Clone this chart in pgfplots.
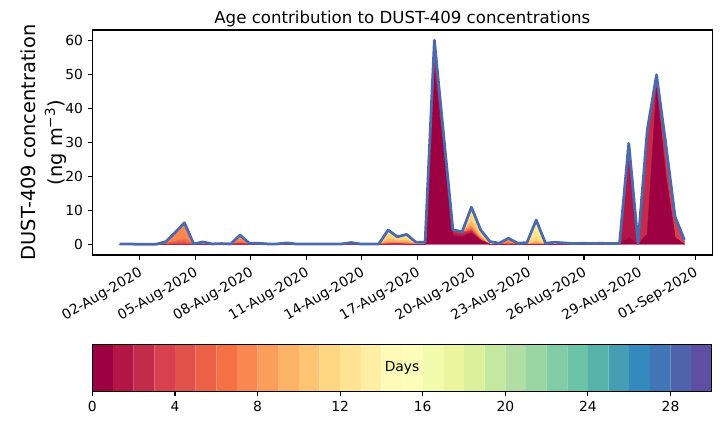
\documentclass[border=0pt]{standalone}
\usepackage{fontspec}
\setmainfont{DejaVu Sans}
\usepackage{pgfplots}
\usepackage{pgfplotstable}
\pgfplotsset{compat=1.18}

% Spectral, 30 levels (day 0 ... day 29)
\definecolor{cb0}{RGB}{158,1,66}
\definecolor{cb1}{RGB}{177,22,71}
\definecolor{cb2}{RGB}{196,43,75}
\definecolor{cb3}{RGB}{214,64,79}
\definecolor{cb4}{RGB}{225,80,74}
\definecolor{cb5}{RGB}{235,96,70}
\definecolor{cb6}{RGB}{245,113,69}
\definecolor{cb7}{RGB}{248,136,79}
\definecolor{cb8}{RGB}{251,158,90}
\definecolor{cb9}{RGB}{253,179,101}
\definecolor{cb10}{RGB}{253,196,116}
\definecolor{cb11}{RGB}{254,214,130}
\definecolor{cb12}{RGB}{254,228,146}
\definecolor{cb13}{RGB}{254,239,164}
\definecolor{cb14}{RGB}{255,250,182}
\definecolor{cb15}{RGB}{251,253,184}
\definecolor{cb16}{RGB}{242,250,171}
\definecolor{cb17}{RGB}{233,246,157}
\definecolor{cb18}{RGB}{218,240,154}
\definecolor{cb19}{RGB}{197,232,159}
\definecolor{cb20}{RGB}{177,223,163}
\definecolor{cb21}{RGB}{154,214,164}
\definecolor{cb22}{RGB}{131,205,165}
\definecolor{cb23}{RGB}{107,196,165}
\definecolor{cb24}{RGB}{88,178,172}
\definecolor{cb25}{RGB}{70,158,180}
\definecolor{cb26}{RGB}{52,138,188}
\definecolor{cb27}{RGB}{64,118,181}
\definecolor{cb28}{RGB}{79,99,171}
\definecolor{cb29}{RGB}{94,79,162}
\definecolor{outline}{RGB}{76,105,174}

% t = days after 02-Aug-2020, one row every 12 h, contribution by age (days); tot = sum
\pgfplotstableread{
t     a0   a1  a2   a3  a5  a6  a7  a9  a11 a12 a13 a14 a17  a20  a24 tot
-1.08 0    0   0    0   0   0   0   0   0   0   0   0   0    0.05 0   0.05
-0.58 0    0   0    0   0   0   0   0   0   0   0   0   0    0    0.1 0.1
-0.08 0    0   0    0   0   0   0   0   0   0   0   0   0    0    0   0
0.42  0    0   0    0   0   0   0   0   0   0   0   0   0    0    0   0
0.92  0    0   0    0   0   0   0.05 0  0   0   0   0   0    0    0   0.05
1.42  0    0   0    0   0.3 0   0.5 0   0   0   0   0   0    0    0   0.8
1.92  0    0   0    0.3 0.6 0   2.6 0   0   0   0   0   0    0    0   3.5
2.42  0    0   0    0.4 0.8 0.6 4.5 0   0   0   0   0   0    0    0   6.3
2.92  0    0   0    0   0   0   0   0   0   0   0   0.1 0    0    0   0.1
3.42  0    0   0    0   0   0   0.3 0   0   0.4 0   0   0    0    0   0.7
3.92  0    0   0    0.1 0   0   0   0   0   0   0   0   0    0    0   0.1
4.42  0    0   0    0.15 0.05 0 0   0   0   0   0   0   0    0    0   0.2
4.92  0    0   0    0   0   0   0   0   0   0   0   0   0.1  0    0   0.1
5.42  0    0   0.3  0   0.4 0   1.2 0   0.8 0   0   0   0    0    0   2.7
5.92  0    0   0    0   0   0   0   0   0   0   0   0   0.15 0.15 0   0.3
6.42  0    0   0    0   0   0   0   0   0   0   0   0   0    0.3  0   0.3
6.92  0    0   0    0   0   0   0   0   0   0   0   0   0    0    0.1 0.1
7.42  0    0   0    0   0   0   0   0   0   0   0   0   0    0.1  0   0.1
7.92  0    0   0    0   0   0   0   0   0   0   0   0   0    0.2  0.2 0.4
8.42  0    0   0    0   0   0   0   0   0   0   0   0   0    0.1  0   0.1
8.92  0    0   0    0   0   0   0   0   0   0   0   0   0    0.05 0   0.05
9.42  0    0   0    0   0   0   0   0   0   0   0   0   0    0.05 0   0.05
9.92  0    0   0    0   0   0   0   0   0   0   0   0   0    0.05 0   0.05
10.42 0    0   0    0   0   0   0   0   0   0   0   0   0    0.05 0   0.05
10.92 0    0   0    0   0   0   0   0   0   0   0   0   0    0.1  0   0.1
11.42 0    0   0    0   0   0   0.2 0   0   0   0   0.3 0    0    0   0.5
11.92 0    0   0    0   0   0   0   0   0   0   0   0   0    0.1  0   0.1
12.42 0    0   0    0   0   0   0   0   0   0   0   0   0    0.05 0   0.05
12.92 0    0   0    0   0   0   0   0   0   0.1 0   0   0    0    0   0.1
13.42 0    0   0    0.2 0   0   0.5 1.0 1.2 1.0 0.3 0   0    0    0   4.2
13.92 0    0   0.3  0   0   0   0.3 0.5 0.6 0.5 0   0   0    0    0   2.2
14.42 0    0   0    0   0.3 0   0.3 0.6 0.8 0.6 0   0.3 0    0    0   2.9
14.92 0    0   0    0   0   0   0   0   0.2 0.2 0.2 0   0    0    0   0.6
15.42 0    0   0    0   0   0   0   0.2 0   0.2 0.2 0   0    0    0   0.6
15.92 51   3   2    1.5 1   0   0.8 0   0   0.7 0   0   0    0    0   60
16.42 27.5 1.6 1.1  0.8 0.5 0   0.3 0   0   0.2 0   0   0    0    0   32
16.92 2.5  0.7 0.5  0.5 0   0   0   0   0   0   0   0   0    0    0   4.2
17.42 2.2  0.5 0.5  0.3 0   0   0.2 0   0   0   0   0   0    0    0   3.7
17.92 3.3  0   0.7  0   0.6 0   0.8 1.3 1.8 1.2 0.7 0   0.3  0.2  0   10.9
18.42 1.2  0   0    0   0.3 0   0.4 0.6 0.7 0.5 0.3 0   0.2  0    0   4.2
18.92 0    0   0    0   0   0   0   0   0.3 0.3 0   0   0.2  0    0   0.8
19.42 0    0   0    0   0   0   0.1 0   0   0.2 0   0   0    0    0   0.3
19.92 0    0   0    0   0.4 0   0.8 0.4 0   0.2 0   0   0    0    0   1.8
20.42 0    0   0    0   0   0   0   0   0   0.3 0   0   0    0    0   0.3
20.92 0    0   0    0   0   0   0   0   0.2 0.3 0   0   0    0    0   0.5
21.42 0    0   0    0   0   0   0.4 0.6 1.3 1.8 1.6 1.0 0.4  0    0   7.1
21.92 0    0   0    0   0   0   0   0   0   0   0.3 0   0    0    0   0.3
22.42 0    0   0    0   0   0   0   0   0   0   0   0.3 0.3  0    0   0.6
22.92 0    0   0    0   0   0   0   0   0   0   0   0   0.4  0    0   0.4
23.42 0    0   0    0   0   0   0   0   0   0   0   0   0.2  0    0   0.2
23.92 0    0   0    0   0   0   0   0   0   0   0   0   0    0.3  0   0.3
24.42 0    0   0    0   0   0   0   0   0   0   0   0   0.2  0    0   0.2
24.92 0    0   0    0   0   0   0   0   0   0   0   0   0.3  0    0   0.3
25.42 0    0   0    0   0   0   0   0   0   0   0   0   0.2  0    0   0.2
25.92 0    0   0    0   0   0   0   0   0   0   0   0.2 0    0    0   0.2
26.42 2    26  1.7  0   0   0   0   0   0   0   0   0   0    0    0   29.7
26.92 0    0.2 0.1  0   0   0   0   0   0   0   0   0   0    0    0   0.3
27.42 3    0   30.6 0   0   0   0   0   0   0   0   0   0    0    0   33.6
27.92 46   0   2.5  1.3 0   0   0   0   0   0   0   0   0    0    0   49.8
28.42 20   0   3    6.4 0   0   0   0   0   0   0   0   0    0    0   29.4
28.92 2    0   0    6.1 0   0   0   0   0   0   0   0   0    0    0   8.1
29.42 0    0   0    1.3 0   0   0   0   0   0   0   0   0    0    0   1.3
}\agedata

\newcommand{\layer}[2]{\addplot[fill=#2, draw=#2, line width=0.3pt] table[x=t, y=#1] {\agedata} \closedcycle;}
\newcommand{\cbcell}[3]{\addplot[fill=#3, draw=none] coordinates {(#1,0) (#1,1) (#2,1) (#2,0)} \closedcycle;}

\pgfplotsset{
  mainframe/.style={
    at={(66.7bp,122.4bp)}, anchor=south west,
    width=446bp, height=162bp, scale only axis,
    xmin=-2.54, xmax=30.92,
    ymin=-3.15, ymax=63.0,
  },
}

\begin{document}
\begin{tikzpicture}
\path[use as bounding box] (0,0) rectangle (519.12bp,306bp);

% stacked age layers
\begin{axis}[
    mainframe,
    xtick={0,3,...,30},
    xticklabels={02-Aug-2020,05-Aug-2020,08-Aug-2020,11-Aug-2020,14-Aug-2020,17-Aug-2020,20-Aug-2020,23-Aug-2020,26-Aug-2020,29-Aug-2020,01-Sep-2020},
    xticklabel style={rotate=30, anchor=north east, font=\fontsize{10}{12}\selectfont},
    ytick={0,10,...,60},
    yticklabel style={font=\fontsize{10}{12}\selectfont},
    /pgf/number format/assume math mode=true,
    tick align=outside, major tick length=3.5pt,
    xtick pos=bottom, ytick pos=left,
    every tick/.style={black, line width=0.8pt},
    axis line style={line width=0.8pt},
    title={Age contribution to DUST-409 concentrations},
    title style={at={(axis description cs:0.5,1)}, anchor=base, yshift=-1pt, font=\fontsize{12}{14}\selectfont},
    ylabel={DUST-409 concentration\\(ng m\textsuperscript{\char"2212 3})},
    ylabel style={at={(axis description cs:-0.079,0.5)}, anchor=center, align=center, font=\fontsize{14}{19}\selectfont},
    stack plots=y,
]
\layer{a0}{cb0}
\layer{a1}{cb1}
\layer{a2}{cb2}
\layer{a3}{cb3}
\layer{a5}{cb5}
\layer{a6}{cb6}
\layer{a7}{cb7}
\layer{a9}{cb9}
\layer{a11}{cb11}
\layer{a12}{cb12}
\layer{a13}{cb13}
\layer{a14}{cb14}
\layer{a17}{cb17}
\layer{a20}{cb20}
\layer{a24}{cb24}
\end{axis}

% total outline, same frame, no stacking
\begin{axis}[
    mainframe,
    xtick pos=bottom, ytick pos=left,
    xtick=\empty, ytick=\empty,
    axis line style={line width=0.8pt},
]
\addplot[draw=outline, line width=2pt, line join=round] table[x=t, y=tot] {\agedata};
\end{axis}

\begin{axis}[
    at={(66.5bp,24.3bp)}, anchor=south west,
    width=446bp, height=33.8bp, scale only axis,
    xmin=0, xmax=30, ymin=0, ymax=1,
    xtick={0,4,...,28}, ytick=\empty,
    xticklabel style={font=\fontsize{10}{12}\selectfont},
    /pgf/number format/assume math mode=true,
    tick align=outside, major tick length=3.5pt,
    xtick pos=bottom,
    every tick/.style={black, line width=0.8pt},
    axis line style={line width=0.8pt},
    axis on top,
]
\cbcell{0}{1}{cb0}
\cbcell{1}{2}{cb1}
\cbcell{2}{3}{cb2}
\cbcell{3}{4}{cb3}
\cbcell{4}{5}{cb4}
\cbcell{5}{6}{cb5}
\cbcell{6}{7}{cb6}
\cbcell{7}{8}{cb7}
\cbcell{8}{9}{cb8}
\cbcell{9}{10}{cb9}
\cbcell{10}{11}{cb10}
\cbcell{11}{12}{cb11}
\cbcell{12}{13}{cb12}
\cbcell{13}{14}{cb13}
\cbcell{14}{15}{cb14}
\cbcell{15}{16}{cb15}
\cbcell{16}{17}{cb16}
\cbcell{17}{18}{cb17}
\cbcell{18}{19}{cb18}
\cbcell{19}{20}{cb19}
\cbcell{20}{21}{cb20}
\cbcell{21}{22}{cb21}
\cbcell{22}{23}{cb22}
\cbcell{23}{24}{cb23}
\cbcell{24}{25}{cb24}
\cbcell{25}{26}{cb25}
\cbcell{26}{27}{cb26}
\cbcell{27}{28}{cb27}
\cbcell{28}{29}{cb28}
\cbcell{29}{30}{cb29}
\node[font=\fontsize{10}{12}\selectfont] at (axis cs:15,0.5) {Days};
\end{axis}
\end{tikzpicture}
\end{document}
